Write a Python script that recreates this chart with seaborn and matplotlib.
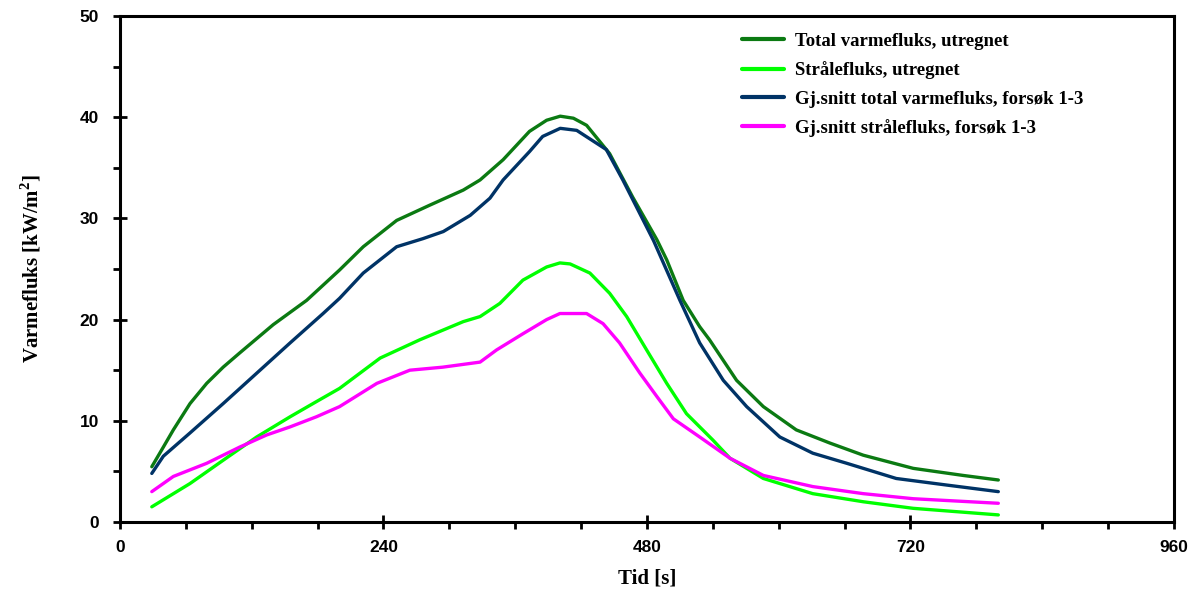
import numpy as np
import pandas as pd
import matplotlib
matplotlib.use("Agg")
import matplotlib.pyplot as plt
import seaborn as sns
from matplotlib.ticker import MultipleLocator

# ---- data ----
series_names = [
    "Total varmefluks, utregnet",
    "Strålefluks, utregnet",
    "Gj.snitt total varmefluks, forsøk 1-3",
    "Gj.snitt strålefluks, forsøk 1-3",
]
series_colors = ["#0b7a12", "#00ff00", "#003366", "#ff00ff"]

total_t = [29, 39.5, 48.6, 63.8, 79, 94, 109, 139.6, 170, 200, 221.6, 252, 282, 312.7, 328,
           349, 373, 388.6, 401, 413, 425, 446, 467, 489, 498, 513, 528, 537, 561.6, 586,
           616, 646.6, 677, 722.5, 768, 800]
total_q = [5.46, 7.4, 9.1, 11.7, 13.7, 15.3, 16.7, 19.5, 21.9, 24.9, 27.2, 29.8, 31.3, 32.8,
           33.8, 35.8, 38.6, 39.7, 40.1, 39.9, 39.2, 36.4, 32.1, 27.9, 25.9, 21.9, 19.3, 18.0,
           14.0, 11.4, 9.1, 7.8, 6.6, 5.3, 4.6, 4.15]

straale_t = [29, 63.8, 94, 124.5, 155, 179, 200, 237, 273, 312.7, 328, 346, 367, 388.6, 400.7,
             410, 428, 446, 461.5, 479.7, 498, 516, 528, 540, 555.6, 586, 631, 677, 722.5, 800]
straale_q = [1.5, 3.8, 6.1, 8.4, 10.4, 11.9, 13.2, 16.2, 18.0, 19.8, 20.3, 21.6, 23.9, 25.2,
             25.6, 25.5, 24.6, 22.6, 20.3, 17.0, 13.7, 10.7, 9.4, 8.1, 6.3, 4.3, 2.8, 2.0,
             1.35, 0.7]

snitt_total_t = [29, 39.5, 63.8, 94, 124.5, 155, 185, 200, 221.6, 252, 276, 294.5, 319, 337,
                 349, 373, 385, 401, 416, 443, 458, 486, 510, 528, 549.5, 570.8, 601, 631,
                 662, 707, 753, 800]
snitt_total_q = [4.8, 6.5, 8.8, 11.7, 14.7, 17.7, 20.6, 22.1, 24.6, 27.2, 28.0, 28.7, 30.3,
                 32.0, 33.8, 36.6, 38.1, 38.9, 38.7, 36.8, 33.8, 27.8, 21.9, 17.7, 14.0, 11.4,
                 8.4, 6.8, 5.8, 4.3, 3.65, 3.0]

snitt_straale_t = [29, 48.6, 79, 109, 133.6, 155, 179, 200, 234, 264, 294, 328, 343, 367,
                   388.6, 400.7, 425, 440, 455, 473.6, 489, 504, 516, 528, 555.6, 586, 631,
                   677, 722.5, 800]
snitt_straale_q = [3.0, 4.5, 5.8, 7.4, 8.6, 9.4, 10.4, 11.4, 13.7, 15.0, 15.3, 15.8, 17.0,
                   18.6, 20.0, 20.6, 20.6, 19.6, 17.7, 14.7, 12.4, 10.2, 9.3, 8.4, 6.3, 4.6,
                   3.5, 2.8, 2.3, 1.85]

x_ticks = [0, 240, 480, 720, 960]
y_ticks = [0, 10, 20, 30, 40, 50]

# ---- build long table ----
frames = []
for name, t, q in zip(series_names,
                      [total_t, straale_t, snitt_total_t, snitt_straale_t],
                      [total_q, straale_q, snitt_total_q, snitt_straale_q]):
    frames.append(pd.DataFrame({"t": t, "q": q, "serie": name}))
df = pd.concat(frames, ignore_index=True)

sns.set_theme(style="white")
plt.rcParams["font.family"] = ["Liberation Serif", "DejaVu Serif"]
plt.rcParams["text.color"] = "black"
plt.rcParams["axes.labelcolor"] = "black"
plt.rcParams["xtick.color"] = "black"
plt.rcParams["ytick.color"] = "black"
plt.rcParams["mathtext.fontset"] = "custom"
plt.rcParams["mathtext.rm"] = "Liberation Serif:bold"
plt.rcParams["mathtext.bf"] = "Liberation Serif:bold"

fig = plt.figure(figsize=(11.96, 5.95), dpi=100)
ax = fig.add_axes([0.1003, 0.1227, 0.8813, 0.8504])

sns.lineplot(data=df, x="t", y="q", hue="serie", hue_order=series_names,
             palette=dict(zip(series_names, series_colors)), sort=False,
             linewidth=2.4, ax=ax, legend=True)

ax.set_xlim(0, 960)
ax.set_ylim(0, 50)
ax.set_xticks(x_ticks)
ax.set_yticks(y_ticks)
ax.xaxis.set_minor_locator(MultipleLocator(60))
ax.yaxis.set_minor_locator(MultipleLocator(5))

for s in ax.spines.values():
    s.set_visible(True)
    s.set_color("black")
    s.set_linewidth(2.2)

ax.tick_params(which="major", direction="inout", length=10, width=2, colors="black",
               bottom=True, left=True)
ax.tick_params(axis="y", which="major", pad=10)
ax.tick_params(axis="x", which="major", pad=8)
ax.tick_params(which="minor", direction="out", length=5, width=2, colors="black",
               bottom=True, left=True)
for lab in ax.get_xticklabels() + ax.get_yticklabels():
    lab.set_fontfamily(["Liberation Sans", "DejaVu Sans"])
    lab.set_fontweight("bold")
    lab.set_fontsize(12.5)

ax.set_xlabel("Tid [s]", fontsize=15, fontweight="bold", labelpad=10, color="black")
ax.set_ylabel("Varmefluks [kW/m$^{2}$]", fontsize=15, fontweight="bold", labelpad=26,
              color="black")

leg = ax.legend(loc="upper right", bbox_to_anchor=(0.93, 1.0), frameon=False,
                handlelength=2.2, handletextpad=0.6, labelspacing=0.6,
                prop={"weight": "bold", "size": 13.5, "family": "Liberation Serif"})
for line in leg.get_lines():
    line.set_linewidth(3)
for txt in leg.get_texts():
    txt.set_color("black")

fig.savefig("out.png", dpi=100)
